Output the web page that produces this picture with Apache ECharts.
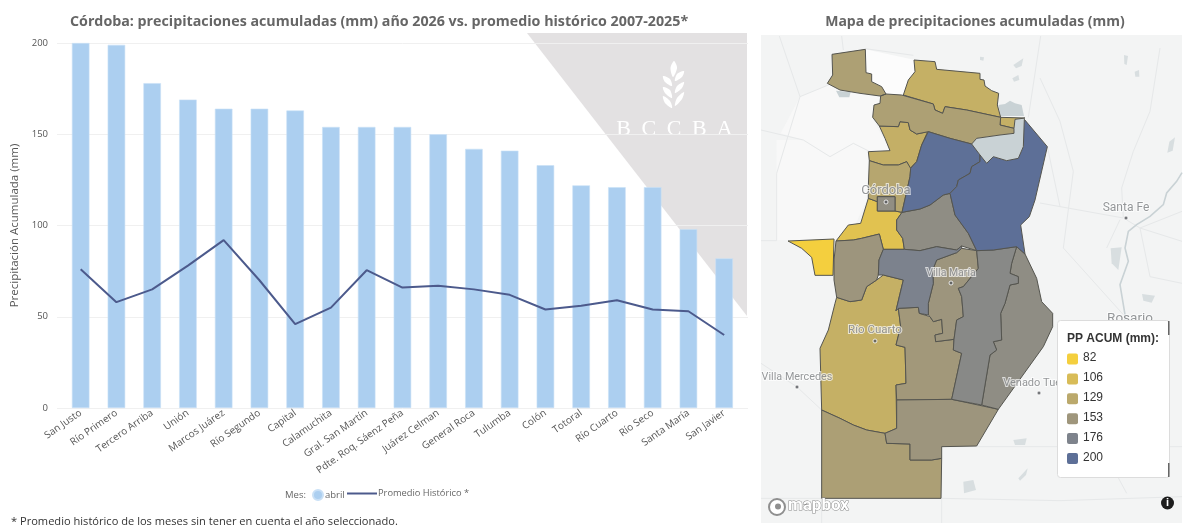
<!DOCTYPE html>
<html lang="es"><head><meta charset="utf-8">
<style>html,body{margin:0;padding:0;background:#fff}#c{width:1187px;height:527px}</style>
<script src="https://cdn.jsdelivr.net/npm/echarts@6/dist/echarts.min.js"></script></head>
<body><div id="c"></div>
<script>
// ---- chart data ----
const categories = ['San Justo','Río Primero','Tercero Arriba','Unión','Marcos Juárez','Río Segundo','Capital','Calamuchita','Gral. San Martín','Pdte. Roq. Sáenz Peña','Juárez Celman','General Roca','Tulumba','Colón','Totoral','Río Cuarto','Río Seco','Santa María','San Javier'];
const abril = [200,199,178,169,164,164,163,154,154,154,150,142,141,133,122,121,121,98,82];
const promedio = [76,58,65,78,92,70,46,55,75.5,66,67,65,62,54,56,59,54,53,40];
const legendValues = [82,106,129,153,176,200];
const legendColors = ['#F4CF3E','#D8BC58','#BBA96C','#9F967C','#7E838C','#5D6F97'];

// ---- map geometry (map units, y grows downward) ----
const deptShapes = {
 'San Javier':[[[84,633],[222,627],[219,736],[165,736],[155,682],[125,655]]],
 'Santa María':[[[325,505],[352,515],[352,543],[405,543],[426,547],[410,570],[410,600],[428,625],[433,658],[370,658],[358,612],[305,625],[280,630],[228,633],[265,585],[302,580]]],
 'Río Seco':[[[462,90],[525,95],[530,118],[660,130],[660,148],[672,150],[675,168],[695,182],[716,190],[712,225],[722,262],[620,240],[555,230],[548,250],[525,240],[520,222],[430,195],[445,150],[465,125]],[[722,262],[795,264],[765,268],[762,295],[720,285]]],
 'Río Cuarto':[[[230,802],[270,815],[305,810],[320,770],[350,750],[370,735],[430,750],[420,790],[408,842],[415,835],[422,890],[408,945],[435,952],[438,1060],[408,1065],[410,1195],[375,1210],[320,1200],[280,1185],[240,1165],[185,1140],[180,955],[205,900],[225,820]]],
 'Totoral':[[[358,288],[415,290],[420,275],[445,278],[450,300],[470,312],[503,305],[485,345],[470,395],[450,415],[440,395],[415,405],[370,405],[328,392],[325,365],[390,362],[375,325]]],
 'Colón':[[[328,392],[370,405],[415,405],[440,395],[452,415],[450,440],[426,547],[405,543],[405,500],[352,500],[352,515],[325,505],[325,470]]],
 'Tulumba':[[[362,198],[378,192],[425,195],[520,222],[525,240],[548,250],[555,230],[620,240],[722,262],[720,285],[762,295],[762,310],[720,315],[650,325],[635,342],[570,325],[505,305],[470,312],[450,300],[445,278],[420,275],[415,290],[358,288],[338,262],[342,225],[360,220]],[[216,73],[316,58],[318,128],[335,132],[335,155],[365,170],[378,192],[360,198],[300,190],[240,180],[202,160],[218,135]]],
 'General Roca':[[[185,1140],[240,1165],[280,1185],[320,1200],[375,1210],[380,1240],[450,1242],[450,1290],[515,1290],[545,1285],[543,1405],[185,1405]]],
 'Juárez Celman':[[[415,835],[475,832],[478,850],[510,860],[520,875],[545,868],[548,910],[525,915],[527,935],[582,928],[580,960],[605,970],[575,1108],[410,1110],[408,1065],[438,1060],[435,952],[408,945],[422,890]]],
 'Pdte. Roq. Sáenz Peña':[[[410,1110],[575,1108],[715,1138],[650,1248],[545,1250],[545,1285],[515,1290],[450,1290],[450,1242],[380,1240],[375,1210],[410,1195]]],
 'Calamuchita':[[[228,633],[280,630],[305,625],[358,612],[370,658],[357,690],[355,735],[350,750],[320,770],[305,810],[270,815],[230,802],[222,750],[222,690]]],
 'Gral. San Martín':[[[530,690],[590,668],[605,655],[650,662],[655,715],[610,770],[595,775],[605,800],[610,860],[590,870],[582,928],[527,935],[525,915],[548,910],[545,868],[520,875],[510,860],[505,855],[505,820],[520,760],[518,720]]],
 'Capital':[[[352,500],[405,500],[405,543],[352,543]]],
 'Río Segundo':[[[426,547],[480,537],[510,525],[550,495],[570,490],[585,555],[625,610],[650,662],[605,648],[590,660],[530,650],[480,662],[433,658],[428,625],[410,600],[410,570]]],
 'Marcos Juárez':[[[770,650],[795,672],[830,745],[845,815],[878,850],[878,890],[850,950],[715,1138],[665,1125],[690,975],[710,960],[700,935],[725,930],[722,850],[735,820],[750,765],[775,760],[775,740],[750,730],[755,700]]],
 'Unión':[[[650,662],[700,660],[770,650],[755,700],[750,730],[775,740],[775,760],[750,765],[735,820],[722,850],[725,930],[700,935],[710,960],[690,975],[665,1125],[575,1108],[605,970],[580,960],[582,928],[590,870],[610,860],[605,800],[595,775],[610,770],[655,715]]],
 'Tercero Arriba':[[[357,690],[370,658],[433,658],[480,662],[530,650],[590,660],[605,648],[605,655],[590,668],[530,690],[518,720],[520,760],[505,820],[505,855],[478,850],[475,832],[415,835],[408,842],[430,750],[370,735],[355,735]]],
 'Río Primero':[[[505,305],[570,325],[635,342],[660,375],[660,395],[635,410],[630,430],[595,450],[590,470],[570,490],[550,495],[510,525],[480,537],[426,547],[450,440],[452,415],[470,395],[485,345]]],
 'San Justo':[[[793,268],[862,350],[825,510],[808,560],[782,585],[795,672],[770,650],[700,660],[650,662],[625,610],[585,555],[570,490],[590,470],[595,450],[630,430],[635,410],[660,395],[660,375],[680,400],[700,380],[740,392],[775,385],[790,350]]]
};
const basePanel = [[3,15],[1266,15],[1266,1479],[3,1479]];
const lightPatches = [
 [[50,330],[50,630],[265,630],[320,510],[325,365],[280,340],[210,380],[130,330]],
 [[120,200],[205,165],[240,180],[360,200],[340,270],[390,362],[325,365],[280,340],[210,380],[130,330],[62,310]],
 [[316,58],[465,90],[465,125],[430,195],[378,192],[365,170],[335,155],[335,132],[318,128]]
];
const lakes = [
 [[635,342],[650,325],[720,315],[762,310],[765,268],[793,266],[790,350],[775,385],[740,392],[700,380],[680,400],[660,375]],
 [[715,225],[735,222],[750,212],[765,220],[785,225],[792,258],[722,258]],
 [[228,182],[272,186],[268,202],[238,202]],
 [[760,105],[790,85],[785,108],[768,115]],[[660,80],[672,82],[670,92],[660,90]],[[757,145],[775,135],[778,150],[762,155]],
 [[1052,655],[1085,652],[1075,720],[1055,700]],[[1146,792],[1185,797],[1175,818],[1150,812]],
 [[1092,75],[1104,78],[1100,105],[1093,102]],[[1124,125],[1137,120],[1138,140],[1126,140]],[[1228,335],[1245,322],[1238,362],[1222,368]],
 [[760,1230],[800,1225],[795,1245],[765,1245]],[[775,1345],[803,1315],[798,1335],[780,1352]],[[610,1355],[640,1350],[648,1380],[612,1390]]
];
const roadLines = [
 [[58,18],[120,200],[50,430],[50,632],[3,632]],[[120,200],[205,165]],[[245,18],[250,60]],[[842,18],[805,262]],
 [[3,300],[130,330],[210,380],[280,340],[330,365]],[[316,56],[460,76]],[[862,350],[900,530]],
 [[185,1140],[185,1479]],[[3,1000],[110,1070],[185,1140]],[[3,1405],[185,1405],[545,1405],[900,1412],[1266,1400]],
 [[545,1250],[1266,1250]],[[545,1250],[545,1479]],[[840,144],[900,274],[940,424],[910,654],[1090,854]],
 [[840,519],[1090,564],[1140,594],[1266,634]],[[1200,54],[1170,244],[1120,364],[1085,474],[1090,564]],
 [[1040,654],[1080,569]],[[1140,594],[1266,544]],[[1140,594],[1170,740],[1266,760]],[[1030,1260],[1100,1390]]
];
const riverLines = [
 [[1266,428],[1250,454],[1220,489],[1210,524],[1170,559],[1130,584],[1105,604],[1095,654],[1105,694],[1080,764],[1095,854],[1100,890]]
];
const cityNames = ['Córdoba','Santa Fe','Villa María','Río Cuarto','Villa Mercedes','Venado Tuerto','Rosario'];
const cityCoords = [[378,516],[1098,564],[573,759],[345,933],[111,1071],[837,1089],[1110,900]];
const cityLabelSizes = [13,12,10.5,11.5,10.8,11,13.5];

// ---- build maps ----
const toLL = ring => ring.concat([ring[0]]).map(p => [p[0], -p[1]]);
const polyFeature = (name, rings) => ({type:'Feature',properties:{name},geometry:{type:'MultiPolygon',coordinates:rings.map(r=>[toLL(r)])}});
const baseFeatures = [polyFeature('panel',[basePanel])]
  .concat(lightPatches.map((r,i)=>polyFeature('patch'+i,[r])))
  .concat(lakes.map((r,i)=>polyFeature('lake'+i,[r])));
echarts.registerMap('baseMap',{type:'FeatureCollection',features:baseFeatures});
echarts.registerMap('deptMap',{type:'FeatureCollection',features:Object.keys(deptShapes).map(n=>polyFeature(n,deptShapes[n]))});
const bounds = [[0,0],[1281,-1491]];
const mapBox = {left:760,top:30,width:427,height:497};

const baseRegions = [{name:'panel',itemStyle:{areaColor:'#f3f4f4'}}]
 .concat(lightPatches.map((r,i)=>({name:'patch'+i,itemStyle:{areaColor:i===2?'#fcfcfc':'#f8f8f8'}})))
 .concat(lakes.map((r,i)=>({name:'lake'+i,itemStyle:{areaColor:i<3?'#c9d2d5':'#d8dee0'}})));

const FONT = '"Open Sans", sans-serif';
const MAPFONT = 'Roboto, sans-serif';
const wheat = [
 [[674,61],[677,68],[673,77],[670.5,68]],
 [[675,81],[677,74],[684,71],[682,77]],[[675,93],[677,86],[684,82],[682,88]],[[675,106],[677,98],[684,92],[682,99]],
 [[672,86],[670,79],[663,76],[665,82]],[[672,98],[670,90],[663,87],[665,93]],[[672,108],[670,101],[663,96],[665,103]]
];
const wmLetters = ['B','C','C','B','A'];
const graphics = [
 {type:'polygon',z:-10,shape:{points:[[527,33],[747,33],[747,316]]},style:{fill:'#E3E1E2'}},
 {type:'text',x:70,y:15,z:20,style:{text:'Córdoba: precipitaciones acumuladas (mm) año 2026 vs. promedio histórico 2007-2025*',font:'bold 14.25px '+FONT,fill:'#666'}},
 {type:'text',x:975,y:15,z:20,style:{text:'Mapa de precipitaciones acumuladas (mm)',font:'bold 14px '+FONT,fill:'#666',align:'center'}},
 {type:'text',x:11,y:516,z:20,style:{text:'* Promedio histórico de los meses sin tener en cuenta el año seleccionado.',font:'11.1px '+FONT,fill:'#333'}},
 {type:'text',x:285,y:490,z:20,style:{text:'Mes:',font:'9.5px '+FONT,fill:'#666'}}
];
wheat.forEach(p=>graphics.push({type:'polygon',z:-9,shape:{points:p,smooth:0.3},style:{fill:'#fff'}}));
wmLetters.forEach((l,i)=>graphics.push({type:'text',x:623.5+i*25.3,y:118,z:-9,style:{text:l,font:'22px "Liberation Serif", serif',fill:'#fff',align:'center'}}));
// legend panel on the map
graphics.push({type:'rect',z:30,shape:{x:1057.5,y:320.5,width:112,height:157,r:3},style:{fill:'#fff',stroke:'#dcdcdc',lineWidth:1}});
graphics.push({type:'rect',z:31,shape:{x:1168,y:321,width:1.5,height:14},style:{fill:'#666'}});
graphics.push({type:'rect',z:31,shape:{x:1168,y:463,width:1.5,height:14},style:{fill:'#666'}});
graphics.push({type:'text',x:1067,y:333,z:31,style:{text:'PP ACUM (mm):',font:'bold 12px "Liberation Sans", sans-serif',fill:'#333'}});
legendValues.forEach((v,i)=>{
  const yc = 359+i*19.9;
  graphics.push({type:'rect',z:31,shape:{x:1067,y:yc-5.5,width:11,height:11,r:2},style:{fill:legendColors[i]}});
  graphics.push({type:'text',x:1083,y:yc-7,z:31,style:{text:String(v),font:'12px "Liberation Sans", sans-serif',fill:'#333'}});
});
// attribution marks
graphics.push({type:'circle',z:31,shape:{cx:777,cy:507,r:8},style:{fill:'#fff',stroke:'#8f8f8f',lineWidth:2}});
graphics.push({type:'circle',z:31,shape:{cx:778,cy:506.5,r:3},style:{fill:'#8f8f8f'}});
graphics.push({type:'text',x:788,y:497,z:31,style:{text:'mapbox',font:'bold 17px Roboto, sans-serif',fill:'#fff',stroke:'#8a8a8a',lineWidth:1}});
graphics.push({type:'circle',z:31,shape:{cx:1167.5,cy:503,r:6.5},style:{fill:'#1c1c1c'}});
graphics.push({type:'text',x:1167.5,y:497,z:32,style:{text:'i',font:'bold 11px "Liberation Sans", sans-serif',fill:'#fff',align:'center'}});

const chart = echarts.init(document.getElementById('c'),null,{renderer:'canvas'});
chart.setOption({
 animation:false,
 backgroundColor:'#fff',
 graphic:{elements:graphics},
 grid:[
  {left:57,top:43,width:691,height:365},
  {left:62.8,top:43,width:679.25,height:365}
 ],
 xAxis:[
  {gridIndex:0,type:'category',data:categories,show:false},
  {gridIndex:1,type:'category',data:categories,axisLine:{show:false},axisTick:{show:false},
   axisLabel:{interval:0,rotate:35,margin:4,fontSize:10,color:'#555',fontFamily:FONT}}
 ],
 yAxis:[
  {gridIndex:0,type:'value',min:0,max:200,interval:50,axisLine:{show:false},axisTick:{show:false},
   axisLabel:{margin:9,fontSize:9.5,color:'#555',fontFamily:FONT},splitLine:{lineStyle:{color:'#f0f0f0',width:1}},
   name:'Precipitación Acumulada (mm)',nameLocation:'middle',nameGap:36,nameTextStyle:{fontSize:11.5,color:'#555',fontFamily:FONT}},
  {gridIndex:1,type:'value',min:0,max:200,interval:50,show:false}
 ],
 geo:{map:'baseMap',boundingCoords:bounds,aspectScale:1,...mapBox,roam:false,silent:true,z:0,
  itemStyle:{areaColor:'#f3f4f4',borderWidth:0,borderColor:'transparent'},
  emphasis:{disabled:true},select:{disabled:true},label:{show:false},regions:baseRegions},
 visualMap:{type:'continuous',show:false,seriesIndex:[2],min:82,max:200,inRange:{color:legendColors}},
 legend:[
  {data:[{name:'abril',icon:'circle'}],left:307,top:484,itemWidth:10,itemHeight:10,itemGap:0,textStyle:{fontSize:9.5,color:'#666',fontFamily:FONT,padding:[0,0,0,-3]},selectedMode:false},
  {data:[{name:'Promedio Histórico *',icon:'rect'}],left:342,top:484,itemWidth:30,itemHeight:2,textStyle:{fontSize:9.3,color:'#666',fontFamily:FONT,padding:[0,0,0,-4]},selectedMode:false}
 ],
 series:[
  {name:'abril',type:'bar',xAxisIndex:1,yAxisIndex:1,data:abril,barWidth:'49%',itemStyle:{color:'#ACCFF0',borderColor:'#C9E0F6',borderWidth:0.6},silent:true},
  {name:'Promedio Histórico *',type:'line',xAxisIndex:1,yAxisIndex:1,data:promedio,symbol:'none',lineStyle:{color:'#4C5A8C',width:2},itemStyle:{color:'#4C5A8C'},silent:true,z:3},
  {name:'dept',type:'map',map:'deptMap',boundingCoords:bounds,aspectScale:1,...mapBox,roam:false,silent:true,z:2,showLegendSymbol:false,
   data:categories.map((n,i)=>({name:n,value:abril[i]})),
   itemStyle:{borderColor:'#55554f',borderWidth:1},label:{show:false},emphasis:{disabled:true},select:{disabled:true}},
  {name:'roads',type:'lines',coordinateSystem:'geo',polyline:true,silent:true,z:1,
   data:roadLines.map(r=>({coords:r.map(p=>[p[0],-p[1]])})),lineStyle:{color:'#e6e8e9',width:1,opacity:1}},
  {name:'rivers',type:'lines',coordinateSystem:'geo',polyline:true,silent:true,z:1,
   data:riverLines.map(r=>({coords:r.map(p=>[p[0],-p[1]])})),lineStyle:{color:'#c9d2d5',width:1.6,opacity:1}},
  {name:'cities',type:'scatter',coordinateSystem:'geo',silent:true,z:10,symbolSize:4,
   itemStyle:{color:'#55585c',borderColor:'#fff',borderWidth:1},
   data:cityNames.map((n,i)=>({name:n,value:[cityCoords[i][0],-cityCoords[i][1]],label:{fontSize:cityLabelSizes[i]}})),
   label:{show:true,position:'top',distance:2,formatter:'{b}',fontFamily:MAPFONT,fontSize:12,color:'#7b7d80',textBorderColor:'rgba(255,255,255,0.85)',textBorderWidth:2}}
 ]
});
</script></body></html>
